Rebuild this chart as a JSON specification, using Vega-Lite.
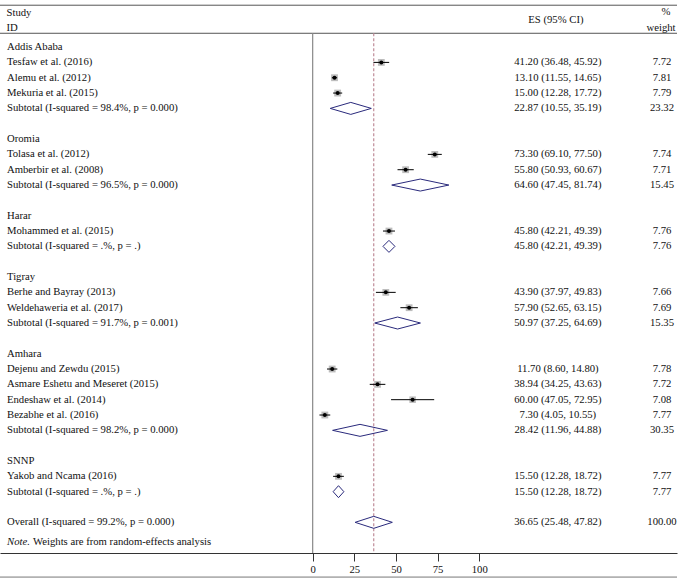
{
  "$schema": "https://vega.github.io/schema/vega-lite/v6.json",
  "width": 677,
  "height": 553,
  "autosize": {"type": "none"},
  "padding": {"left": 0, "top": 0, "right": 6, "bottom": 31},
  "background": "white",
  "config": {"view": {"stroke": null}, "text": {"font": "Liberation Serif", "fontSize": 10.7, "color": "#111"}},
  "data": {"values": [
      {"r": -1, "label": "Addis Ababa", "kind": "group"},
      {"r": 0, "label": "Tesfaw et al. (2016)", "kind": "study", "es": 41.20, "lo": 36.48, "hi": 45.92, "w": 7.72, "ci": "41.20 (36.48, 45.92)"},
      {"r": 1, "label": "Alemu et al. (2012)", "kind": "study", "es": 13.10, "lo": 11.55, "hi": 14.65, "w": 7.81, "ci": "13.10 (11.55, 14.65)"},
      {"r": 2, "label": "Mekuria et al. (2015)", "kind": "study", "es": 15.00, "lo": 12.28, "hi": 17.72, "w": 7.79, "ci": "15.00 (12.28, 17.72)"},
      {"r": 3, "label": "Subtotal (I-squared = 98.4%, p = 0.000)", "kind": "subtotal", "es": 22.87, "lo": 10.55, "hi": 35.19, "w": 23.32, "ci": "22.87 (10.55, 35.19)"},
      {"r": 5, "label": "Oromia", "kind": "group"},
      {"r": 6, "label": "Tolasa et al. (2012)", "kind": "study", "es": 73.30, "lo": 69.10, "hi": 77.50, "w": 7.74, "ci": "73.30 (69.10, 77.50)"},
      {"r": 7, "label": "Amberbir et al. (2008)", "kind": "study", "es": 55.80, "lo": 50.93, "hi": 60.67, "w": 7.71, "ci": "55.80 (50.93, 60.67)"},
      {"r": 8, "label": "Subtotal (I-squared = 96.5%, p = 0.000)", "kind": "subtotal", "es": 64.60, "lo": 47.45, "hi": 81.74, "w": 15.45, "ci": "64.60 (47.45, 81.74)"},
      {"r": 10, "label": "Harar", "kind": "group"},
      {"r": 11, "label": "Mohammed et al. (2015)", "kind": "study", "es": 45.80, "lo": 42.21, "hi": 49.39, "w": 7.76, "ci": "45.80 (42.21, 49.39)"},
      {"r": 12, "label": "Subtotal (I-squared = .%, p = .)", "kind": "subtotal", "es": 45.80, "lo": 42.21, "hi": 49.39, "w": 7.76, "ci": "45.80 (42.21, 49.39)"},
      {"r": 14, "label": "Tigray", "kind": "group"},
      {"r": 15, "label": "Berhe and Bayray (2013)", "kind": "study", "es": 43.90, "lo": 37.97, "hi": 49.83, "w": 7.66, "ci": "43.90 (37.97, 49.83)"},
      {"r": 16, "label": "Weldehaweria et al. (2017)", "kind": "study", "es": 57.90, "lo": 52.65, "hi": 63.15, "w": 7.69, "ci": "57.90 (52.65, 63.15)"},
      {"r": 17, "label": "Subtotal (I-squared = 91.7%, p = 0.001)", "kind": "subtotal", "es": 50.97, "lo": 37.25, "hi": 64.69, "w": 15.35, "ci": "50.97 (37.25, 64.69)"},
      {"r": 19, "label": "Amhara", "kind": "group"},
      {"r": 20, "label": "Dejenu and Zewdu (2015)", "kind": "study", "es": 11.70, "lo": 8.60, "hi": 14.80, "w": 7.78, "ci": "11.70 (8.60, 14.80)"},
      {"r": 21, "label": "Asmare Eshetu and Meseret (2015)", "kind": "study", "es": 38.94, "lo": 34.25, "hi": 43.63, "w": 7.72, "ci": "38.94 (34.25, 43.63)"},
      {"r": 22, "label": "Endeshaw et al. (2014)", "kind": "study", "es": 60.00, "lo": 47.05, "hi": 72.95, "w": 7.08, "ci": "60.00 (47.05, 72.95)"},
      {"r": 23, "label": "Bezabhe et al. (2016)", "kind": "study", "es": 7.30, "lo": 4.05, "hi": 10.55, "w": 7.77, "ci": "7.30 (4.05, 10.55)"},
      {"r": 24, "label": "Subtotal (I-squared = 98.2%, p = 0.000)", "kind": "subtotal", "es": 28.42, "lo": 11.96, "hi": 44.88, "w": 30.35, "ci": "28.42 (11.96, 44.88)"},
      {"r": 26, "label": "SNNP", "kind": "group"},
      {"r": 27, "label": "Yakob and Ncama (2016)", "kind": "study", "es": 15.50, "lo": 12.28, "hi": 18.72, "w": 7.77, "ci": "15.50 (12.28, 18.72)"},
      {"r": 28, "label": "Subtotal (I-squared = .%, p = .)", "kind": "subtotal", "es": 15.50, "lo": 12.28, "hi": 18.72, "w": 7.77, "ci": "15.50 (12.28, 18.72)"},
      {"r": 30, "label": "Overall (I-squared = 99.2%, p = 0.000)", "kind": "overall", "es": 36.65, "lo": 25.48, "hi": 47.82, "w": 100.00, "ci": "36.65 (25.48, 47.82)"}
  ]},
  "encoding": {
    "y": {"field": "r", "type": "quantitative", "scale": {"domain": [-4.07, 32.0], "reverse": true, "nice": false, "zero": false}, "axis": null}
  },
  "layer": [
    {
      "transform": [{"filter": "datum.r === 0"}],
      "mark": {"type": "rule", "color": "#555", "strokeWidth": 1},
      "encoding": {"y": {"datum": -3.73}}
    },
    {
      "transform": [{"filter": "datum.r === 0"}],
      "mark": {"type": "rule", "color": "#555", "strokeWidth": 1},
      "encoding": {"y": {"datum": -1.9}}
    },
    {
      "transform": [{"filter": "datum.r === 0"}],
      "mark": {"type": "rule", "color": "#777", "strokeWidth": 1},
      "encoding": {"y": {"datum": 33.57}}
    },
    {
      "transform": [{"filter": "datum.r === 0"}],
      "mark": {"type": "rule", "color": "#888", "strokeWidth": 1.2},
      "encoding": {
        "x": {"datum": 0, "type": "quantitative", "scale": {"domain": [-187.7, 218.7], "nice": false, "zero": false},
          "axis": {"values": [0, 25, 50, 75, 100], "title": null, "grid": false, "domainColor": "#333", "tickColor": "#333", "tickSize": 8, "labelFont": "Liberation Serif", "labelFontSize": 10.7, "labelColor": "#111", "labelPadding": 3, "labelFlush": false, "format": "d"}},
        "y": {"datum": -1.9},
        "y2": {"datum": 32.0}
      }
    },
    {
      "transform": [{"filter": "datum.r === 0"}],
      "mark": {"type": "rule", "color": "#bf8c98", "strokeWidth": 1.2, "strokeDash": [3, 2]},
      "encoding": {"x": {"datum": 36.65}, "y": {"datum": -1.9}, "y2": {"datum": 32.0}}
    },
    {
      "transform": [{"filter": "datum.kind === 'study'"}],
      "mark": {"type": "square", "color": "#bdbdbd", "opacity": 1},
      "encoding": {
        "x": {"field": "es", "type": "quantitative"},
        "size": {"field": "w", "type": "quantitative", "scale": {"domain": [0, 8], "range": [0, 48]}, "legend": null}
      }
    },
    {
      "transform": [{"filter": "datum.kind === 'study'"}],
      "mark": {"type": "rule", "color": "#000", "strokeWidth": 1},
      "encoding": {"x": {"field": "lo", "type": "quantitative"}, "x2": {"field": "hi"}}
    },
    {
      "transform": [{"filter": "datum.kind === 'study'"}],
      "mark": {"type": "circle", "color": "#000", "size": 16, "opacity": 1},
      "encoding": {"x": {"field": "es", "type": "quantitative"}}
    },
    {
      "transform": [{"filter": "datum.kind === 'subtotal' || datum.kind === 'overall'"}],
      "mark": {"type": "rule", "color": "#2a2a7c", "strokeWidth": 1, "y2Offset": -6},
      "encoding": {"x": {"field": "lo", "type": "quantitative"}, "x2": {"field": "es"}, "y2": {"field": "r"}}
    },
    {
      "transform": [{"filter": "datum.kind === 'subtotal' || datum.kind === 'overall'"}],
      "mark": {"type": "rule", "color": "#2a2a7c", "strokeWidth": 1, "y2Offset": 6},
      "encoding": {"x": {"field": "lo", "type": "quantitative"}, "x2": {"field": "es"}, "y2": {"field": "r"}}
    },
    {
      "transform": [{"filter": "datum.kind === 'subtotal' || datum.kind === 'overall'"}],
      "mark": {"type": "rule", "color": "#2a2a7c", "strokeWidth": 1, "y2Offset": -6},
      "encoding": {"x": {"field": "hi", "type": "quantitative"}, "x2": {"field": "es"}, "y2": {"field": "r"}}
    },
    {
      "transform": [{"filter": "datum.kind === 'subtotal' || datum.kind === 'overall'"}],
      "mark": {"type": "rule", "color": "#2a2a7c", "strokeWidth": 1, "y2Offset": 6},
      "encoding": {"x": {"field": "hi", "type": "quantitative"}, "x2": {"field": "es"}, "y2": {"field": "r"}}
    },
    {
      "mark": {"type": "text", "align": "left", "baseline": "middle"},
      "encoding": {"x": {"datum": -183.5}, "text": {"field": "label"}}
    },
    {
      "transform": [{"filter": "datum.kind !== 'group'"}],
      "mark": {"type": "text", "align": "center", "baseline": "middle"},
      "encoding": {"x": {"datum": 147.2}, "text": {"field": "ci"}}
    },
    {
      "transform": [{"filter": "datum.kind !== 'group'"}],
      "mark": {"type": "text", "align": "center", "baseline": "middle"},
      "encoding": {"x": {"datum": 209.7}, "text": {"field": "w", "format": ".2f"}}
    },
    {
      "transform": [{"filter": "datum.r === 0"}],
      "mark": {"type": "text", "align": "left", "baseline": "middle", "text": "Study"},
      "encoding": {"x": {"datum": -183.8}, "y": {"datum": -3.2}}
    },
    {
      "transform": [{"filter": "datum.r === 0"}],
      "mark": {"type": "text", "align": "left", "baseline": "middle", "text": "ID"},
      "encoding": {"x": {"datum": -183.8}, "y": {"datum": -2.22}}
    },
    {
      "transform": [{"filter": "datum.r === 0"}],
      "mark": {"type": "text", "align": "center", "baseline": "middle", "text": "ES (95% CI)"},
      "encoding": {"x": {"datum": 146}, "y": {"datum": -2.76}}
    },
    {
      "transform": [{"filter": "datum.r === 0"}],
      "mark": {"type": "text", "align": "center", "baseline": "middle", "text": "%"},
      "encoding": {"x": {"datum": 212}, "y": {"datum": -3.28}}
    },
    {
      "transform": [{"filter": "datum.r === 0"}],
      "mark": {"type": "text", "align": "center", "baseline": "middle", "text": "weight"},
      "encoding": {"x": {"datum": 209.1}, "y": {"datum": -2.22}}
    },
    {
      "transform": [{"filter": "datum.r === 0"}],
      "mark": {"type": "text", "align": "left", "baseline": "middle", "text": "Note.", "fontStyle": "italic"},
      "encoding": {"x": {"datum": -183.5}, "y": {"datum": 31.3}}
    },
    {
      "transform": [{"filter": "datum.r === 0"}],
      "mark": {"type": "text", "align": "left", "baseline": "middle", "text": "Weights are from random-effects analysis", "dx": 26},
      "encoding": {"x": {"datum": -183.5}, "y": {"datum": 31.3}}
    }
  ]
}
